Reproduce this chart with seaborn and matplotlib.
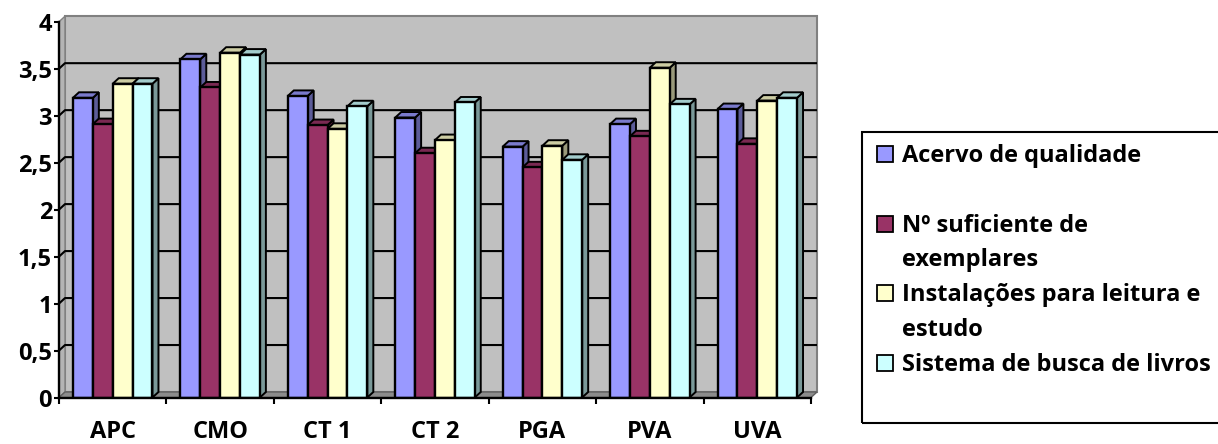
import numpy as np
import pandas as pd
import matplotlib
matplotlib.use('Agg')
import matplotlib.pyplot as plt
from matplotlib.patches import Polygon, Rectangle
from matplotlib.colors import to_rgb
import seaborn as sns

# dados
escolas = ['APC', 'CMO', 'CT 1', 'CT 2', 'PGA', 'PVA', 'UVA']
itens = ['Acervo de qualidade',
         'Nº suficiente de\nexemplares',
         'Instalações para leitura e\nestudo',
         'Sistema de busca de livros']
acervo = [3.19, 3.60, 3.21, 2.98, 2.67, 2.91, 3.07]
exemplares = [2.91, 3.30, 2.90, 2.60, 2.45, 2.78, 2.70]
instalacoes = [3.34, 3.67, 2.86, 2.74, 2.68, 3.51, 3.16]
busca = [3.34, 3.65, 3.10, 3.14, 2.53, 3.12, 3.19]
yticks = [0, 0.5, 1, 1.5, 2, 2.5, 3, 3.5, 4]
ytick_labels = ['0', '0,5', '1', '1,5', '2', '2,5', '3', '3,5', '4']

cores = ['#9999FF', '#993366', '#FFFFCC', '#CCFFFF']

rows = []
for item, vals in zip(itens, [acervo, exemplares, instalacoes, busca]):
    for esc, v in zip(escolas, vals):
        rows.append({'Escola': esc, 'Item': item, 'Nota': v})
df = pd.DataFrame(rows)

sns.set_theme(style='white')
plt.rcParams['font.family'] = ['Open Sans', 'DejaVu Sans']
plt.rcParams['font.weight'] = 'bold'
FS = 17

W, H = 1218, 444
fig = plt.figure(figsize=(W / 100, H / 100), dpi=100)
ax = fig.add_axes([59 / W, 1 - 397.5 / H, 752 / W, 375.8 / H])
ax.set_facecolor('none')

sns.barplot(data=df, x='Escola', y='Nota', hue='Item', hue_order=itens,
            palette=cores, saturation=1, width=0.74, gap=0,
            edgecolor='black', linewidth=1.7, errorbar=None,
            legend=False, ax=ax, zorder=3)

ax.set_xlim(-0.5, 6.5)
ax.set_ylim(0, 4)

# profundidade "3D" em unidades de dados
bb = ax.get_window_extent()
ddx = 6 / (bb.width / 7)
ddy = 5.5 / (bb.height / 4)
x0, x1 = -0.5, 6.5

# parede do fundo, parede lateral e chao
ax.add_patch(Rectangle((x0 + ddx, ddy), x1 - x0, 4, facecolor='#C0C0C0',
                       edgecolor='#808080', lw=1.5, zorder=0, clip_on=False))
ax.add_patch(Polygon([(x0, 0), (x0 + ddx, ddy), (x0 + ddx, 4 + ddy), (x0, 4)],
                     facecolor='#B4B4B4', edgecolor='#808080', lw=1,
                     zorder=0.5, clip_on=False))
ax.add_patch(Polygon([(x0, 0), (x1, 0), (x1 + ddx, ddy), (x0 + ddx, ddy)],
                     facecolor='#8C8C8C', edgecolor='#606060', lw=1,
                     zorder=1, clip_on=False))
for y in yticks[1:-1]:
    ax.plot([x0, x0 + ddx, x1 + ddx], [y, y + ddy, y + ddy], color='black',
            lw=1.5, zorder=1, clip_on=False, solid_capstyle='butt')

# faces de topo e lateral das barras
bars = [p for p in ax.patches if p.get_zorder() == 3]
for p in bars:
    bx, bw, bh = p.get_x(), p.get_width(), p.get_height()
    c = np.array(to_rgb(p.get_facecolor()))
    ax.add_patch(Polygon([(bx + bw, 0), (bx + bw + ddx, ddy),
                          (bx + bw + ddx, bh + ddy), (bx + bw, bh)],
                         facecolor=c * 0.6, edgecolor='black', lw=1.4,
                         zorder=2, clip_on=False))
    ax.add_patch(Polygon([(bx, bh), (bx + bw, bh), (bx + bw + ddx, bh + ddy),
                          (bx + ddx, bh + ddy)],
                         facecolor=c * 0.8, edgecolor='black', lw=1.4,
                         zorder=2.5, clip_on=False))

# eixos
for s in ['top', 'right']:
    ax.spines[s].set_visible(False)
for s in ['left', 'bottom']:
    ax.spines[s].set_color('black')
    ax.spines[s].set_linewidth(1.7)
    ax.spines[s].set_zorder(4)

ax.set_yticks(yticks)
ax.set_yticklabels(ytick_labels)
ax.tick_params(axis='y', left=True, direction='out', length=3.5, width=1.5,
               color='black', labelsize=FS, pad=1.5, labelcolor='black')
ax.set_xticks(np.arange(-0.5, 7, 1), minor=True)
ax.tick_params(axis='x', which='minor', bottom=True, direction='out',
               length=4, width=1.5, color='black')
ax.tick_params(axis='x', which='major', length=0, pad=16, labelsize=FS,
               labelcolor='black')
for lab in ax.get_xticklabels() + ax.get_yticklabels():
    lab.set_fontweight('bold')
ax.set_xlabel('')
ax.set_ylabel('')
ax.grid(False)

# legenda desenhada a mao (estilo Excel)
fig.patches.append(Rectangle((862 / W, 1 - 423 / H), 380 / W, 291 / H,
                             transform=fig.transFigure, fill=False,
                             edgecolor='black', lw=1.5, clip_on=False))
linha = 0
for item, cor in zip(itens, cores):
    base = 162 + linha * 34.8
    fig.patches.append(Rectangle((877 / W, 1 - base / H), 16 / W, 16 / H,
                                 transform=fig.transFigure, facecolor=cor,
                                 edgecolor='black', lw=1.3))
    for k, txt in enumerate(item.split('\n')):
        fig.text(902 / W, 1 - (base + k * 34.8) / H, txt, fontsize=FS,
                 fontweight='bold', va='baseline', ha='left', color='black')
    linha += 2

fig.savefig('out.png', dpi=100)
